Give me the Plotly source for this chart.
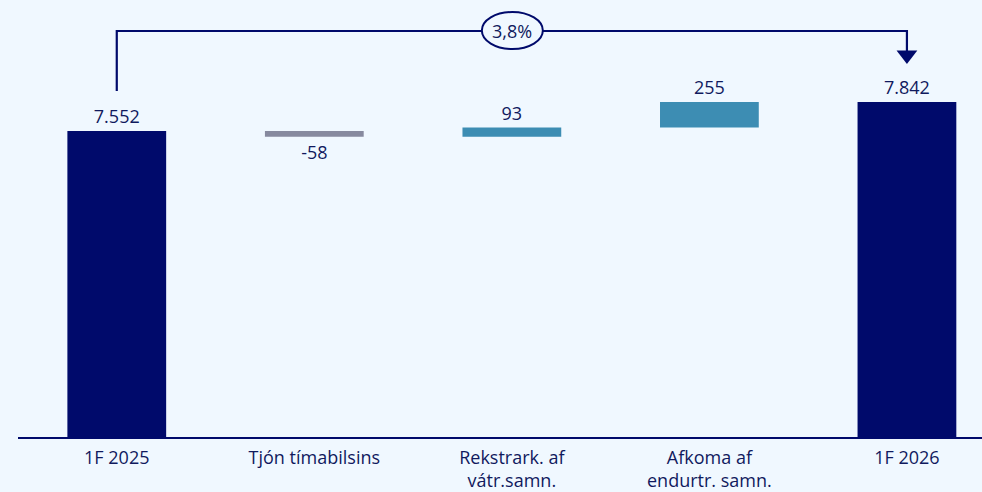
import plotly.graph_objects as go

categories = ["1F 2025", "Tjón tímabilsins", "Rekstrark. af<br>vátr.samn.",
              "Afkoma af<br>endurtr. samn.", "1F 2026"]
measures = ["absolute", "relative", "relative", "relative", "total"]
values = [7552, -58, 93, 255, 7842]
change_label = "3,8%"

NAVY = "#000A6B"
TEAL = "#3D8DB3"
GREY = "#878A9F"
TEXT = "#101A5E"
BG = "#F0F8FF"
FONT = "Open Sans"


def fmt(v):
    return f"{v:,}".replace(",", ".")


x_idx = list(range(len(categories)))

fig = go.Figure(
    go.Waterfall(
        x=x_idx,
        y=values,
        measure=measures,
        base=0,
        width=0.5,
        text=[fmt(v) for v in values],
        textposition="outside",
        textfont=dict(size=18, color=TEXT, family=FONT),
        cliponaxis=False,
        increasing=dict(marker=dict(color=TEAL)),
        decreasing=dict(marker=dict(color=GREY)),
        totals=dict(marker=dict(color=NAVY)),
        connector=dict(visible=False),
        hoverinfo="skip",
    )
)

# bracket showing growth between the two totals
y_start = values[0] + 400
y_top = values[0] + 1000
y_arrow = values[-1] + 470
fig.add_trace(go.Scatter(
    x=[0, 0, 4, 4],
    y=[y_start, y_top, y_top, y_arrow + 30],
    mode="lines",
    line=dict(color=NAVY, width=2.2),
    hoverinfo="skip",
    cliponaxis=False,
))
fig.add_trace(go.Scatter(
    x=[4], y=[y_arrow],
    mode="markers",
    marker=dict(symbol="triangle-down", size=18, color=NAVY),
    hoverinfo="skip",
))
fig.add_shape(
    type="circle", xref="x", yref="y",
    xsizemode="pixel", ysizemode="pixel",
    xanchor=2, yanchor=y_top,
    x0=-30, x1=31, y0=-18, y1=19,
    line=dict(color=NAVY, width=2),
    fillcolor=BG,
)
fig.add_annotation(
    x=2, y=y_top, text=change_label, showarrow=False,
    font=dict(size=18, color=TEXT, family=FONT),
)

fig.update_layout(
    width=982,
    height=492,
    margin=dict(l=18, r=0, t=0, b=55),
    paper_bgcolor=BG,
    plot_bgcolor=BG,
    showlegend=False,
    xaxis=dict(
        range=[-0.5, 4.38],
        tickvals=x_idx,
        ticktext=categories,
        showgrid=False,
        zeroline=False,
        showline=True,
        linecolor=NAVY,
        linewidth=2,
        ticks="",
        ticklabelstandoff=3,
        tickfont=dict(size=18, color=TEXT, family=FONT),
    ),
    yaxis=dict(
        range=[4492, 8862],
        visible=False,
        showgrid=False,
    ),
)

fig.write_html("out.html", config={"displayModeBar": False},
               post_script="document.body.style.margin='0';")
